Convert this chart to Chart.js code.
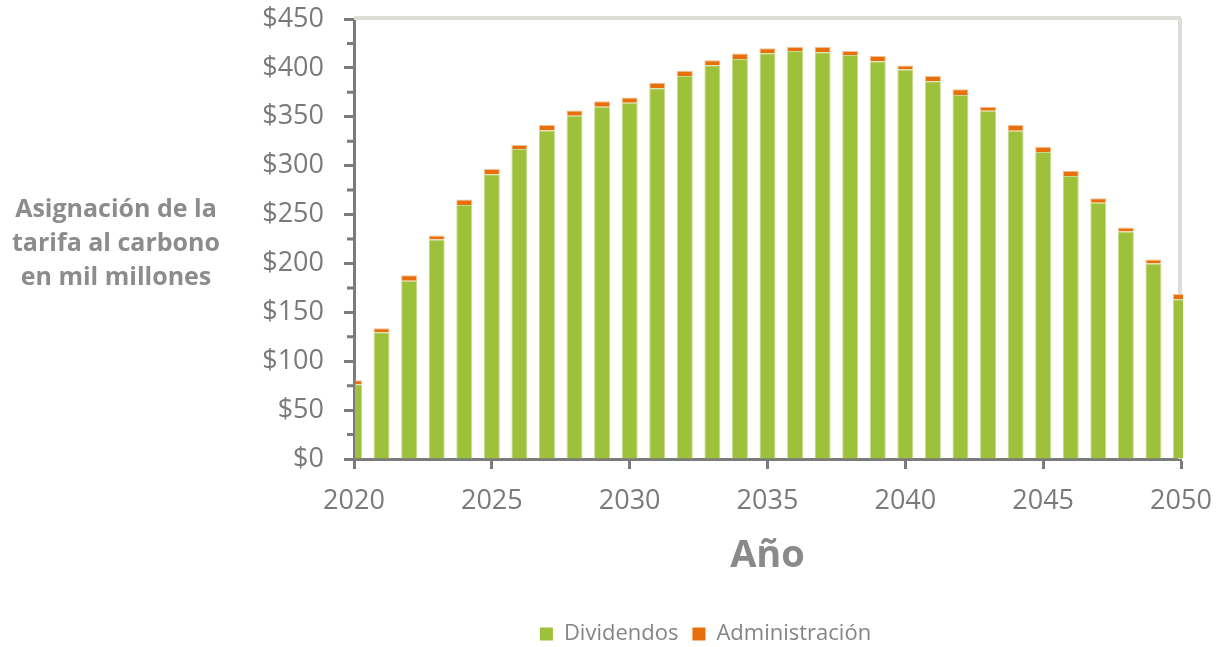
<!DOCTYPE html>
<html>
<head>
<meta charset="utf-8">
<script src="https://cdn.jsdelivr.net/npm/chart.js@4.4.1/dist/chart.umd.min.js"></script>
<style>
  html, body { margin: 0; padding: 0; background: #fff; }
  #wrap { position: relative; width: 1217px; height: 647px; }
  #ylabel {
    position: absolute; left: 0; top: 190px; width: 232px;
    text-align: center; font-family: "Open Sans", sans-serif; font-weight: 700;
    font-size: 25px; line-height: 34px; color: #8c8c8c;
  }
</style>
</head>
<body>
<div id="wrap">
  <canvas id="chart" width="1217" height="647"></canvas>
  <div id="ylabel">Asignación de la<br>tarifa al carbono<br>en mil millones</div>
</div>
<script>
const years = [2020, 2021, 2022, 2023, 2024, 2025, 2026, 2027, 2028, 2029,
  2030, 2031, 2032, 2033, 2034, 2035, 2036, 2037, 2038, 2039,
  2040, 2041, 2042, 2043, 2044, 2045, 2046, 2047, 2048, 2049, 2050];
const dividendos = [76.5, 129.6, 182.4, 224.5, 259.9, 291.2, 317, 336, 351, 360.2,
  364.3, 379.3, 391.8, 402.7, 409.2, 415, 417.3, 416, 413.3, 406.8,
  398.3, 386.4, 372.4, 356.1, 335.7, 313.9, 289.5, 262.2, 232.7, 200, 163.3];
const administracion = [4, 4.1, 5.6, 4.1, 5.4, 5.4, 4.1, 5.5, 5.4, 5.8,
  5.4, 5.4, 5.2, 5.1, 5.4, 5.1, 4.1, 5.4, 4, 5.4,
  4.1, 5.4, 5.8, 4.1, 5.8, 5.5, 5.4, 4.5, 4, 4.1, 5.4];
const yTicks = [0, 50, 100, 150, 200, 250, 300, 350, 400, 450];
const xTicks = [2020, 2025, 2030, 2035, 2040, 2045, 2050];

const axisColor = '#7b7b7b';
const textColor = '#7a7a7a';

// frame lines on top/right and the short minor ticks on the y axis
const framePlugin = {
  id: 'framePlugin',
  beforeDatasetsDraw(chart) {
    const ctx = chart.ctx;
    const a = chart.chartArea;
    const y = chart.scales.y;
    ctx.save();
    ctx.strokeStyle = '#deded9';
    ctx.lineWidth = 4;
    ctx.beginPath();
    ctx.moveTo(a.left, a.top - 1);
    ctx.lineTo(a.right, a.top - 1);
    ctx.moveTo(a.right - 1, a.top - 1);
    ctx.lineTo(a.right - 1, a.bottom);
    ctx.stroke();
    ctx.strokeStyle = axisColor;
    ctx.lineWidth = 3;
    ctx.beginPath();
    for (let i = 0; i < yTicks.length - 1; i++) {
      const py = y.getPixelForValue(yTicks[i] + 25);
      ctx.moveTo(a.left - 7, py);
      ctx.lineTo(a.left, py);
    }
    ctx.stroke();
    ctx.restore();
  }
};

const ctx = document.getElementById('chart').getContext('2d');
new Chart(ctx, {
  type: 'bar',
  data: {
    datasets: [{
      label: 'Dividendos',
      data: years.map((yr, i) => ({ x: yr, y: dividendos[i] })),
      backgroundColor: '#9dc13b',
      borderColor: '#c4da8c',
      borderWidth: 1,
      borderSkipped: 'start',
      barPercentage: 0.58,
      categoryPercentage: 1,
      clip: { left: -1, right: 2, top: 5, bottom: 0 }
    }, {
      label: 'Administración',
      data: years.map((yr, i) => ({ x: yr, y: administracion[i] })),
      backgroundColor: '#e8700c',
      borderColor: '#f5bf95',
      borderWidth: 1,
      borderSkipped: 'start',
      barPercentage: 0.58,
      categoryPercentage: 1,
      clip: { left: -1, right: 2, top: 5, bottom: 0 }
    }]
  },
  options: {
    responsive: false,
    animation: false,
    layout: { padding: { left: 230, right: 36, top: 19, bottom: -8 } },
    plugins: {
      legend: {
        position: 'bottom',
        labels: {
          boxWidth: 13,
          boxHeight: 13,
          padding: 14,
          color: '#858585',
          font: { family: 'Open Sans', size: 22 },
          generateLabels(chart) {
            return chart.data.datasets.map((ds, i) => ({
              text: ds.label,
              fillStyle: ds.backgroundColor,
              strokeStyle: ds.backgroundColor,
              lineWidth: 0,
              datasetIndex: i,
              fontColor: '#858585'
            }));
          }
        }
      },
      tooltip: { enabled: false }
    },
    scales: {
      x: {
        type: 'linear',
        stacked: true,
        min: 2020,
        max: 2050,
        offset: false,
        afterBuildTicks(scale) {
          scale.ticks = xTicks.map(v => ({ value: v }));
        },
        afterFit(scale) {
          scale.paddingLeft = 0;
          scale.paddingRight = 0;
        },
        ticks: {
          color: textColor,
          font: { family: 'Open Sans', size: 27 },
          padding: 16,
          callback: v => String(v)
        },
        grid: {
          offset: false,
          drawOnChartArea: false,
          tickLength: 10,
          tickColor: axisColor,
          tickWidth: 3
        },
        border: { color: axisColor, width: 3 },
        title: {
          display: true,
          text: 'Año',
          color: '#8a8a8a',
          font: { family: 'Open Sans', size: 38, weight: 'bold' },
          padding: { top: 0, bottom: 30 }
        }
      },
      y: {
        stacked: true,
        min: 0,
        max: 450,
        afterBuildTicks(scale) {
          scale.ticks = yTicks.map(v => ({ value: v }));
        },
        afterFit(scale) {
          scale.width = 124;
          scale.paddingTop = 0;
          scale.paddingBottom = 0;
        },
        ticks: {
          color: textColor,
          font: { family: 'Open Sans', size: 27 },
          padding: 20,
          callback: v => '$' + v
        },
        grid: {
          drawOnChartArea: false,
          tickLength: 10,
          tickColor: axisColor,
          tickWidth: 3
        },
        border: { color: axisColor, width: 3 }
      }
    }
  },
  plugins: [framePlugin]
});
</script>
</body>
</html>
